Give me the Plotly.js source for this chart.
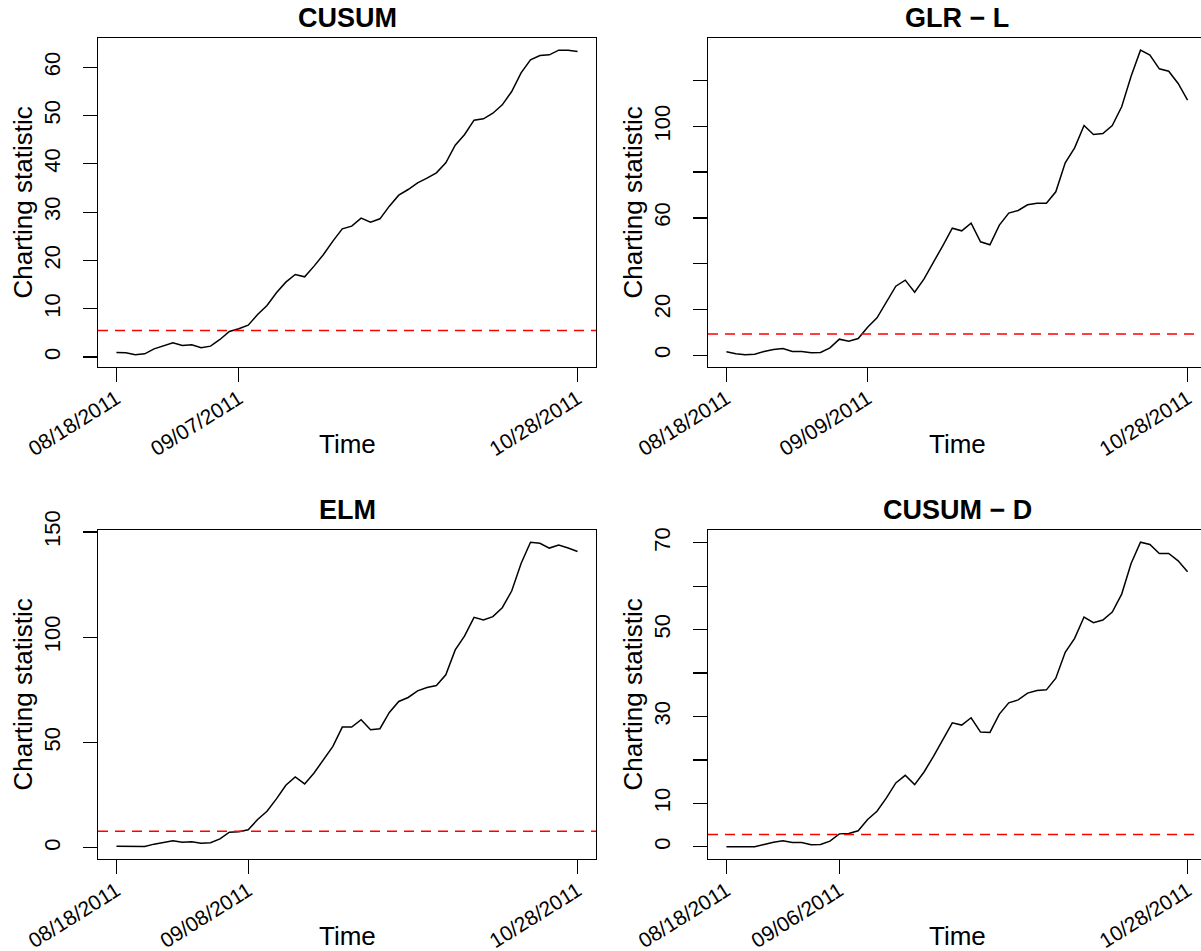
<!DOCTYPE html>
<html><head><meta charset="utf-8">
<script src="https://cdn.plot.ly/plotly-3.0.1.min.js"></script>
<style>html,body{margin:0;padding:0;overflow:hidden;background:#fff}#chart{width:1220px;height:951px}</style>
</head><body><div id="chart"></div>
<script>
// ---- data ----
const panelTitles = ['CUSUM', 'GLR \u2212 L', 'ELM', 'CUSUM \u2212 D'];
const cusumValues = [0.97,0.90,0.48,0.69,1.72,2.41,2.97,2.41,2.55,1.93,
  2.28,3.66,5.30,5.86,6.62,8.83,10.69,13.31,15.52,17.10,
  16.62,18.83,21.24,24.00,26.55,27.10,28.76,27.93,28.62,31.24,
  33.52,34.69,36.07,37.03,38.14,40.21,43.86,46.07,49.03,49.31,
  50.48,52.21,54.97,58.83,61.52,62.41,62.55,63.52,63.52,63.24];
const glrValues = [1.46,0.58,0.15,0.44,1.6,2.48,2.91,1.6,1.6,1.02,
  1.17,3.2,6.99,6.12,7.28,12.24,16.3,23.16,30.15,32.78,
  27.53,33.36,40.35,47.92,55.49,54.33,57.68,49.53,48.22,56.82,
  62.07,63.23,65.71,66.43,66.43,71.38,84.05,90.6,100.36,96.43,
  96.87,100.36,108.52,121.92,133.28,131.1,125.13,124.11,118.72,111.43];
const elmValues = [0.79,0.79,0.47,0.63,1.74,2.68,3.32,2.68,2.84,2.21,
  2.37,4.26,7.42,7.58,8.53,13.42,17.37,23.21,29.69,33.63,
  30.32,35.53,41.84,48.16,57.32,57.32,60.79,56.06,56.53,64.27,
  69.48,71.37,74.53,76.11,77.06,82.11,93.95,100.58,109.43,108.17,
  109.74,114.0,121.9,135.0,145.1,144.6,142.3,143.7,142.3,140.7];
const cusumDValues = [0,0,0,0,0.54,1.07,1.38,0.99,0.99,0.46,
  0.54,1.3,2.98,3.06,3.68,6.28,8.19,11.26,14.7,16.46,
  14.32,17.23,20.83,24.66,28.56,28.03,29.71,26.42,26.34,30.55,
  33.15,33.84,35.38,35.99,36.14,38.82,44.79,48.01,52.91,51.61,
  52.22,54.06,58.19,65.24,70.14,69.6,67.53,67.53,65.85,63.32];
const thresholdValues = [5.5, 9.2, 7.9, 2.83];
// x tick positions (observation index) and labels
const xTickIndex = [[0,13,49],[0,15,49],[0,14,49],[0,12,49]];
const xTickLabels = [
  ['08/18/2011','09/07/2011','10/28/2011'],
  ['08/18/2011','09/09/2011','10/28/2011'],
  ['08/18/2011','09/08/2011','10/28/2011'],
  ['08/18/2011','09/06/2011','10/28/2011']];
const yTickVals = [[0,10,20,30,40,50,60],[0,20,40,60,80,100,120],[0,50,100,150],[0,10,20,30,40,50,60,70]];
const yTickLabels = [['0','10','20','30','40','50','60'],['0','20','','60','','100',''],['0','50','100','150'],['0','10','','30','','50','','70']];
const xTitle = 'Time';
const yTitle = 'Charting statistic';

const series = [cusumValues, glrValues, elmValues, cusumDValues];

// ---- layout geometry (pixels) ----
const W = 1220, H = 951;
const frames = [[98,596,38,367],[708,1206,38,367],[98,596,530,859],[708,1206,530,859]];
const FONT = 'Liberation Sans, Arial, Helvetica, sans-serif';

const data = [], layout = {
  width: W, height: H, margin:{l:0,r:0,t:0,b:0}, showlegend:false,
  paper_bgcolor:'#fff', plot_bgcolor:'#fff',
  font:{family:FONT, color:'#000'}, shapes:[], annotations:[]
};

series.forEach((vals, p) => {
  const n = p === 0 ? '' : String(p+1);
  const idx = vals.map((_, i) => i);
  data.push({type:'scatter', mode:'lines', x: idx, y: vals, xaxis:'x'+n, yaxis:'y'+n,
    line:{color:'#000', width:1.5}, hoverinfo:'skip'});
  const [l, r, t, b] = frames[p];
  const N = vals.length - 1;
  const mn = Math.min(...vals), mx = Math.max(...vals);
  const common = {showline:true, mirror:true, linecolor:'#000', linewidth:1.3, showgrid:false, zeroline:false,
    ticks:'outside', ticklen:14, tickwidth:1.3, tickcolor:'#000',
    tickmode:'array', automargin:false, fixedrange:true};
  layout['xaxis'+n] = Object.assign({}, common, {
    domain:[l/W, r/W], anchor:'y'+n, range:[-0.04*N, N*1.04],
    tickfont:{size:21, family:FONT, color:'#000'},
    tickvals: xTickIndex[p], ticktext: xTickLabels[p], tickangle:-32, ticklabelstandoff:-4});
  layout['yaxis'+n] = Object.assign({}, common, {
    domain:[1-b/H, 1-t/H], anchor:'x'+n, range:[mn-0.04*(mx-mn), mx+0.04*(mx-mn)],
    tickfont:{size:22, family:FONT, color:'#000'},
    tickvals: yTickVals[p], ticktext: yTickLabels[p], tickangle:-90, ticklabelstandoff:14});
  layout.shapes.push({type:'line', xref:'x'+n+' domain', x0:0, x1:1, yref:'y'+n,
    y0: thresholdValues[p], y1: thresholdValues[p], line:{color:'#ff0000', width:1.5, dash:'10px,7px'}});
  const cx = (l + r) / 2, cy = (t + b) / 2;
  layout.annotations.push({xref:'paper', yref:'paper', x: cx/W, y: 1-(t-20)/H, text:'<b>'+panelTitles[p]+'</b>',
    showarrow:false, xanchor:'center', yanchor:'middle', font:{size:27, family:FONT, color:'#000'}});
  layout.annotations.push({xref:'paper', yref:'paper', x: cx/W, y: 1-(b+77)/H, text: xTitle,
    showarrow:false, xanchor:'center', yanchor:'middle', font:{size:26, family:FONT, color:'#000'}});
  layout.annotations.push({xref:'paper', yref:'paper', x: (l-76)/W, y: 1-cy/H, text: yTitle, textangle:-90,
    showarrow:false, xanchor:'center', yanchor:'middle', font:{size:26, family:FONT, color:'#000'}});
});

Plotly.newPlot('chart', data, layout, {staticPlot:true, displayModeBar:false});
</script></body></html>
